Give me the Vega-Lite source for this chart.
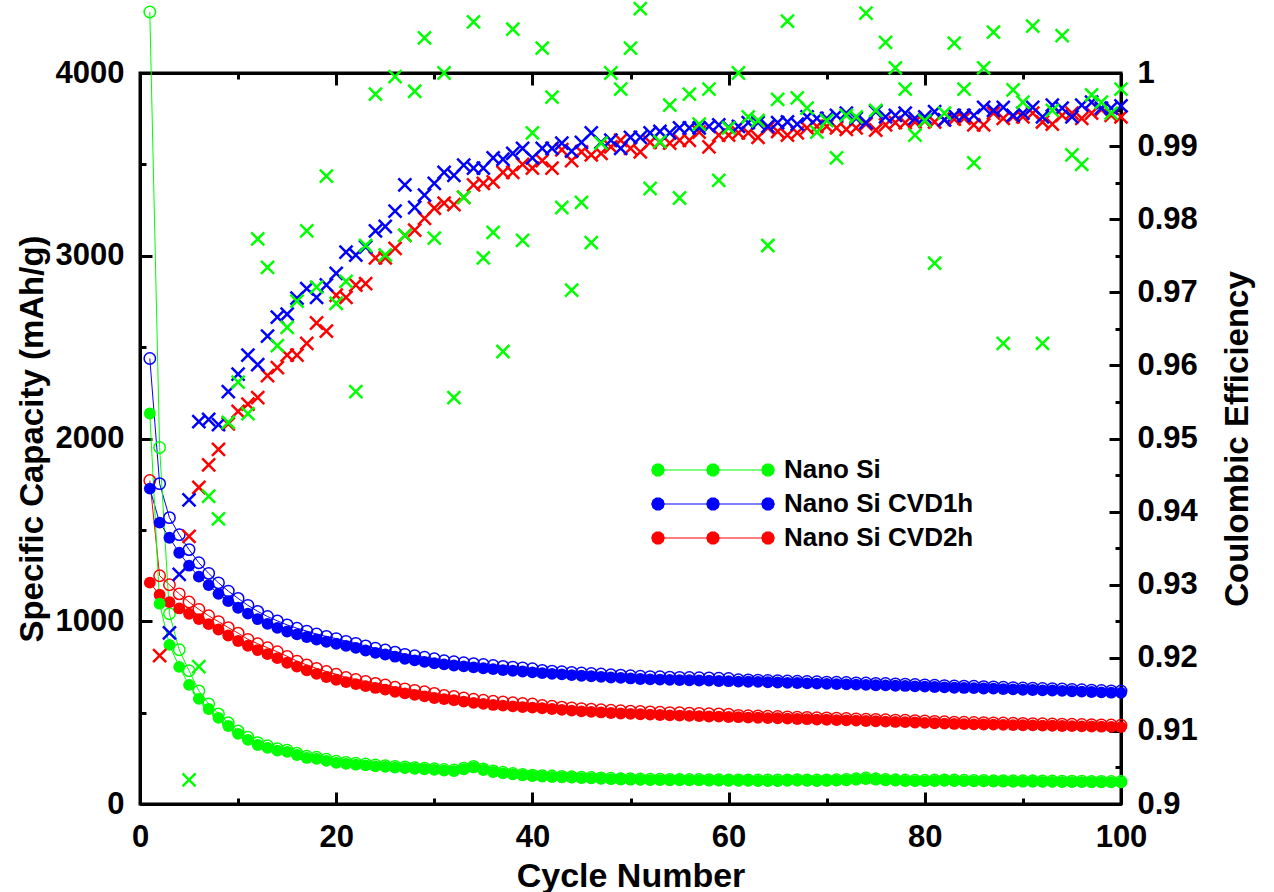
{
"$schema":"https://vega.github.io/schema/vega-lite/v6.json",
"width":981,"height":731,
"autosize":{"type":"none"},
"padding":{"left":140,"top":73,"right":153,"bottom":88},
"background":"white",
"config":{
"view":{"stroke":"black","strokeWidth":3},
"font":"Liberation Sans",
"axis":{"domainColor":"black","domainWidth":3,"tickColor":"black","tickWidth":3,"labelFont":"Liberation Sans","labelFontWeight":"bold","labelFontSize":31,"labelColor":"black","titleFont":"Liberation Sans","titleFontWeight":"bold","titleFontSize":33,"titleColor":"black","grid":false,"labelFlush":false,"labelOverlap":false}
},
"data":{"values":[
{"n":1,"s":"Nano Si CVD2h","d":1211,"c":1770},
{"n":2,"s":"Nano Si CVD2h","d":1145,"c":1249,"e":0.9203},
{"n":3,"s":"Nano Si CVD2h","d":1105,"c":1200},
{"n":4,"s":"Nano Si CVD2h","d":1070,"c":1150},
{"n":5,"s":"Nano Si CVD2h","d":1041,"c":1105,"e":0.9366},
{"n":6,"s":"Nano Si CVD2h","d":1012,"c":1065,"e":0.9433},
{"n":7,"s":"Nano Si CVD2h","d":984,"c":1030,"e":0.9464},
{"n":8,"s":"Nano Si CVD2h","d":955,"c":998,"e":0.9485},
{"n":9,"s":"Nano Si CVD2h","d":922,"c":965,"e":0.952},
{"n":10,"s":"Nano Si CVD2h","d":892,"c":935,"e":0.9537},
{"n":11,"s":"Nano Si CVD2h","d":866,"c":901,"e":0.9547},
{"n":12,"s":"Nano Si CVD2h","d":842,"c":877,"e":0.9556},
{"n":13,"s":"Nano Si CVD2h","d":820,"c":855,"e":0.9586},
{"n":14,"s":"Nano Si CVD2h","d":798,"c":833,"e":0.9597},
{"n":15,"s":"Nano Si CVD2h","d":773,"c":808,"e":0.9614},
{"n":16,"s":"Nano Si CVD2h","d":752,"c":782,"e":0.9614},
{"n":17,"s":"Nano Si CVD2h","d":731,"c":761,"e":0.963},
{"n":18,"s":"Nano Si CVD2h","d":712,"c":742,"e":0.9658},
{"n":19,"s":"Nano Si CVD2h","d":695,"c":725,"e":0.9647},
{"n":20,"s":"Nano Si CVD2h","d":680,"c":710,"e":0.9696},
{"n":21,"s":"Nano Si CVD2h","d":667,"c":692,"e":0.9693},
{"n":22,"s":"Nano Si CVD2h","d":656,"c":681,"e":0.971},
{"n":23,"s":"Nano Si CVD2h","d":645,"c":670,"e":0.9712},
{"n":24,"s":"Nano Si CVD2h","d":635,"c":660,"e":0.9747},
{"n":25,"s":"Nano Si CVD2h","d":626,"c":651,"e":0.9747},
{"n":26,"s":"Nano Si CVD2h","d":614,"c":639,"e":0.976},
{"n":27,"s":"Nano Si CVD2h","d":605,"c":630,"e":0.9778},
{"n":28,"s":"Nano Si CVD2h","d":597,"c":622,"e":0.9785},
{"n":29,"s":"Nano Si CVD2h","d":589,"c":614,"e":0.9801},
{"n":30,"s":"Nano Si CVD2h","d":580,"c":605,"e":0.9815},
{"n":31,"s":"Nano Si CVD2h","d":574,"c":594,"e":0.9822},
{"n":32,"s":"Nano Si CVD2h","d":568,"c":588,"e":0.982},
{"n":33,"s":"Nano Si CVD2h","d":560,"c":580,"e":0.983},
{"n":34,"s":"Nano Si CVD2h","d":553,"c":573,"e":0.9847},
{"n":35,"s":"Nano Si CVD2h","d":548,"c":568,"e":0.9849},
{"n":36,"s":"Nano Si CVD2h","d":542,"c":562,"e":0.9851},
{"n":37,"s":"Nano Si CVD2h","d":538,"c":558,"e":0.9864},
{"n":38,"s":"Nano Si CVD2h","d":534,"c":554,"e":0.9864},
{"n":39,"s":"Nano Si CVD2h","d":530,"c":550,"e":0.9875},
{"n":40,"s":"Nano Si CVD2h","d":527,"c":547,"e":0.987},
{"n":41,"s":"Nano Si CVD2h","d":524,"c":539,"e":0.988},
{"n":42,"s":"Nano Si CVD2h","d":520,"c":535,"e":0.987},
{"n":43,"s":"Nano Si CVD2h","d":515,"c":530,"e":0.9895},
{"n":44,"s":"Nano Si CVD2h","d":511,"c":526,"e":0.988},
{"n":45,"s":"Nano Si CVD2h","d":507,"c":522,"e":0.9892},
{"n":46,"s":"Nano Si CVD2h","d":504,"c":519,"e":0.9888},
{"n":47,"s":"Nano Si CVD2h","d":501,"c":516,"e":0.989},
{"n":48,"s":"Nano Si CVD2h","d":498,"c":513,"e":0.9899},
{"n":49,"s":"Nano Si CVD2h","d":495,"c":510,"e":0.9908},
{"n":50,"s":"Nano Si CVD2h","d":493,"c":508,"e":0.9897},
{"n":51,"s":"Nano Si CVD2h","d":491,"c":506,"e":0.9892},
{"n":52,"s":"Nano Si CVD2h","d":489,"c":504,"e":0.9905},
{"n":53,"s":"Nano Si CVD2h","d":487,"c":502,"e":0.9905},
{"n":54,"s":"Nano Si CVD2h","d":485,"c":500,"e":0.9904},
{"n":55,"s":"Nano Si CVD2h","d":484,"c":499,"e":0.9908},
{"n":56,"s":"Nano Si CVD2h","d":482,"c":497,"e":0.9908},
{"n":57,"s":"Nano Si CVD2h","d":481,"c":496,"e":0.9919},
{"n":58,"s":"Nano Si CVD2h","d":479,"c":494,"e":0.9899},
{"n":59,"s":"Nano Si CVD2h","d":478,"c":493,"e":0.9915},
{"n":60,"s":"Nano Si CVD2h","d":476,"c":491,"e":0.9915},
{"n":61,"s":"Nano Si CVD2h","d":475,"c":485,"e":0.9918},
{"n":62,"s":"Nano Si CVD2h","d":473,"c":483,"e":0.9918},
{"n":63,"s":"Nano Si CVD2h","d":472,"c":482,"e":0.9912},
{"n":64,"s":"Nano Si CVD2h","d":470,"c":480,"e":0.9925},
{"n":65,"s":"Nano Si CVD2h","d":469,"c":479,"e":0.992},
{"n":66,"s":"Nano Si CVD2h","d":467,"c":477,"e":0.9915},
{"n":67,"s":"Nano Si CVD2h","d":465,"c":475,"e":0.9918},
{"n":68,"s":"Nano Si CVD2h","d":464,"c":474,"e":0.9925},
{"n":69,"s":"Nano Si CVD2h","d":462,"c":472,"e":0.9927},
{"n":70,"s":"Nano Si CVD2h","d":461,"c":471,"e":0.9927},
{"n":71,"s":"Nano Si CVD2h","d":459,"c":469,"e":0.9925},
{"n":72,"s":"Nano Si CVD2h","d":458,"c":468,"e":0.9923},
{"n":73,"s":"Nano Si CVD2h","d":456,"c":466,"e":0.9925},
{"n":74,"s":"Nano Si CVD2h","d":454,"c":464,"e":0.993},
{"n":75,"s":"Nano Si CVD2h","d":453,"c":463,"e":0.9922},
{"n":76,"s":"Nano Si CVD2h","d":451,"c":461,"e":0.9929},
{"n":77,"s":"Nano Si CVD2h","d":449,"c":459,"e":0.9932},
{"n":78,"s":"Nano Si CVD2h","d":448,"c":458,"e":0.9932},
{"n":79,"s":"Nano Si CVD2h","d":446,"c":456,"e":0.9933},
{"n":80,"s":"Nano Si CVD2h","d":444,"c":454,"e":0.9934},
{"n":81,"s":"Nano Si CVD2h","d":442,"c":452,"e":0.9933},
{"n":82,"s":"Nano Si CVD2h","d":440,"c":450,"e":0.9936},
{"n":83,"s":"Nano Si CVD2h","d":438,"c":448,"e":0.9937},
{"n":84,"s":"Nano Si CVD2h","d":437,"c":447,"e":0.9938},
{"n":85,"s":"Nano Si CVD2h","d":436,"c":446,"e":0.9929},
{"n":86,"s":"Nano Si CVD2h","d":435,"c":445,"e":0.9929},
{"n":87,"s":"Nano Si CVD2h","d":434,"c":444,"e":0.9945},
{"n":88,"s":"Nano Si CVD2h","d":433,"c":443,"e":0.9938},
{"n":89,"s":"Nano Si CVD2h","d":432,"c":442,"e":0.994},
{"n":90,"s":"Nano Si CVD2h","d":431,"c":441,"e":0.994},
{"n":91,"s":"Nano Si CVD2h","d":430,"c":440,"e":0.9945},
{"n":92,"s":"Nano Si CVD2h","d":429,"c":439,"e":0.9933},
{"n":93,"s":"Nano Si CVD2h","d":428,"c":438,"e":0.993},
{"n":94,"s":"Nano Si CVD2h","d":427,"c":437,"e":0.9942},
{"n":95,"s":"Nano Si CVD2h","d":426,"c":436,"e":0.9945},
{"n":96,"s":"Nano Si CVD2h","d":425,"c":435,"e":0.9938},
{"n":97,"s":"Nano Si CVD2h","d":424,"c":434,"e":0.9945},
{"n":98,"s":"Nano Si CVD2h","d":423,"c":433,"e":0.995},
{"n":99,"s":"Nano Si CVD2h","d":422,"c":432,"e":0.9942},
{"n":100,"s":"Nano Si CVD2h","d":421,"c":431,"e":0.994},
{"n":1,"s":"Nano Si CVD1h","d":1726,"c":2438},
{"n":2,"s":"Nano Si CVD1h","d":1540,"c":1753},
{"n":3,"s":"Nano Si CVD1h","d":1457,"c":1567,"e":0.9234},
{"n":4,"s":"Nano Si CVD1h","d":1375,"c":1474,"e":0.9314},
{"n":5,"s":"Nano Si CVD1h","d":1304,"c":1392,"e":0.9416},
{"n":6,"s":"Nano Si CVD1h","d":1244,"c":1320,"e":0.9523},
{"n":7,"s":"Nano Si CVD1h","d":1198,"c":1262,"e":0.9526},
{"n":8,"s":"Nano Si CVD1h","d":1150,"c":1210,"e":0.9519},
{"n":9,"s":"Nano Si CVD1h","d":1110,"c":1165,"e":0.9564},
{"n":10,"s":"Nano Si CVD1h","d":1074,"c":1125,"e":0.9588},
{"n":11,"s":"Nano Si CVD1h","d":1042,"c":1087,"e":0.9614},
{"n":12,"s":"Nano Si CVD1h","d":1012,"c":1054,"e":0.9601},
{"n":13,"s":"Nano Si CVD1h","d":986,"c":1026,"e":0.964},
{"n":14,"s":"Nano Si CVD1h","d":964,"c":1002,"e":0.9666},
{"n":15,"s":"Nano Si CVD1h","d":944,"c":980,"e":0.967},
{"n":16,"s":"Nano Si CVD1h","d":928,"c":962,"e":0.9692},
{"n":17,"s":"Nano Si CVD1h","d":914,"c":946,"e":0.9705},
{"n":18,"s":"Nano Si CVD1h","d":900,"c":930,"e":0.9693},
{"n":19,"s":"Nano Si CVD1h","d":888,"c":917,"e":0.971},
{"n":20,"s":"Nano Si CVD1h","d":877,"c":905,"e":0.9726},
{"n":21,"s":"Nano Si CVD1h","d":865,"c":890,"e":0.9755},
{"n":22,"s":"Nano Si CVD1h","d":854,"c":879,"e":0.9751},
{"n":23,"s":"Nano Si CVD1h","d":840,"c":865,"e":0.9762},
{"n":24,"s":"Nano Si CVD1h","d":827,"c":852,"e":0.9784},
{"n":25,"s":"Nano Si CVD1h","d":818,"c":843,"e":0.979},
{"n":26,"s":"Nano Si CVD1h","d":806,"c":831,"e":0.9811},
{"n":27,"s":"Nano Si CVD1h","d":794,"c":819,"e":0.9847},
{"n":28,"s":"Nano Si CVD1h","d":786,"c":811,"e":0.9816},
{"n":29,"s":"Nano Si CVD1h","d":778,"c":803,"e":0.9833},
{"n":30,"s":"Nano Si CVD1h","d":770,"c":795,"e":0.9849},
{"n":31,"s":"Nano Si CVD1h","d":764,"c":784,"e":0.9864},
{"n":32,"s":"Nano Si CVD1h","d":758,"c":778,"e":0.986},
{"n":33,"s":"Nano Si CVD1h","d":753,"c":773,"e":0.9874},
{"n":34,"s":"Nano Si CVD1h","d":748,"c":768,"e":0.987},
{"n":35,"s":"Nano Si CVD1h","d":743,"c":763,"e":0.987},
{"n":36,"s":"Nano Si CVD1h","d":738,"c":758,"e":0.9884},
{"n":37,"s":"Nano Si CVD1h","d":733,"c":753,"e":0.9882},
{"n":38,"s":"Nano Si CVD1h","d":729,"c":749,"e":0.989},
{"n":39,"s":"Nano Si CVD1h","d":725,"c":745,"e":0.9897},
{"n":40,"s":"Nano Si CVD1h","d":720,"c":740,"e":0.9884},
{"n":41,"s":"Nano Si CVD1h","d":716,"c":731,"e":0.9897},
{"n":42,"s":"Nano Si CVD1h","d":712,"c":727,"e":0.9897},
{"n":43,"s":"Nano Si CVD1h","d":709,"c":724,"e":0.9904},
{"n":44,"s":"Nano Si CVD1h","d":705,"c":720,"e":0.9893},
{"n":45,"s":"Nano Si CVD1h","d":702,"c":717,"e":0.9905},
{"n":46,"s":"Nano Si CVD1h","d":699,"c":714,"e":0.9918},
{"n":47,"s":"Nano Si CVD1h","d":696,"c":711,"e":0.9905},
{"n":48,"s":"Nano Si CVD1h","d":692,"c":707,"e":0.9908},
{"n":49,"s":"Nano Si CVD1h","d":690,"c":705,"e":0.9897},
{"n":50,"s":"Nano Si CVD1h","d":687,"c":702,"e":0.9912},
{"n":51,"s":"Nano Si CVD1h","d":684,"c":699,"e":0.9912},
{"n":52,"s":"Nano Si CVD1h","d":682,"c":697,"e":0.9918},
{"n":53,"s":"Nano Si CVD1h","d":681,"c":696,"e":0.992},
{"n":54,"s":"Nano Si CVD1h","d":679,"c":694,"e":0.9918},
{"n":55,"s":"Nano Si CVD1h","d":678,"c":693,"e":0.9925},
{"n":56,"s":"Nano Si CVD1h","d":677,"c":692,"e":0.9925},
{"n":57,"s":"Nano Si CVD1h","d":676,"c":691,"e":0.9925},
{"n":58,"s":"Nano Si CVD1h","d":675,"c":690,"e":0.9927},
{"n":59,"s":"Nano Si CVD1h","d":673,"c":688,"e":0.9929},
{"n":60,"s":"Nano Si CVD1h","d":672,"c":687,"e":0.9926},
{"n":61,"s":"Nano Si CVD1h","d":670,"c":680,"e":0.9927},
{"n":62,"s":"Nano Si CVD1h","d":669,"c":679,"e":0.9932},
{"n":63,"s":"Nano Si CVD1h","d":668,"c":678,"e":0.9932},
{"n":64,"s":"Nano Si CVD1h","d":666,"c":676,"e":0.9927},
{"n":65,"s":"Nano Si CVD1h","d":665,"c":675,"e":0.9932},
{"n":66,"s":"Nano Si CVD1h","d":663,"c":673,"e":0.9933},
{"n":67,"s":"Nano Si CVD1h","d":662,"c":672,"e":0.993},
{"n":68,"s":"Nano Si CVD1h","d":660,"c":670,"e":0.994},
{"n":69,"s":"Nano Si CVD1h","d":659,"c":669,"e":0.9938},
{"n":70,"s":"Nano Si CVD1h","d":657,"c":667,"e":0.9938},
{"n":71,"s":"Nano Si CVD1h","d":656,"c":666,"e":0.9942},
{"n":72,"s":"Nano Si CVD1h","d":655,"c":665,"e":0.9945},
{"n":73,"s":"Nano Si CVD1h","d":653,"c":663,"e":0.9938},
{"n":74,"s":"Nano Si CVD1h","d":652,"c":662,"e":0.9932},
{"n":75,"s":"Nano Si CVD1h","d":650,"c":660,"e":0.9947},
{"n":76,"s":"Nano Si CVD1h","d":649,"c":659,"e":0.994},
{"n":77,"s":"Nano Si CVD1h","d":647,"c":657,"e":0.9942},
{"n":78,"s":"Nano Si CVD1h","d":646,"c":656,"e":0.9945},
{"n":79,"s":"Nano Si CVD1h","d":644,"c":654,"e":0.9938},
{"n":80,"s":"Nano Si CVD1h","d":642,"c":652,"e":0.994},
{"n":81,"s":"Nano Si CVD1h","d":640,"c":650,"e":0.9947},
{"n":82,"s":"Nano Si CVD1h","d":638,"c":648,"e":0.9936},
{"n":83,"s":"Nano Si CVD1h","d":636,"c":646,"e":0.9942},
{"n":84,"s":"Nano Si CVD1h","d":635,"c":645,"e":0.9942},
{"n":85,"s":"Nano Si CVD1h","d":634,"c":644,"e":0.9942},
{"n":86,"s":"Nano Si CVD1h","d":632,"c":642,"e":0.9953},
{"n":87,"s":"Nano Si CVD1h","d":631,"c":641,"e":0.9949},
{"n":88,"s":"Nano Si CVD1h","d":629,"c":639,"e":0.9953},
{"n":89,"s":"Nano Si CVD1h","d":627,"c":637,"e":0.9942},
{"n":90,"s":"Nano Si CVD1h","d":625,"c":635,"e":0.9945},
{"n":91,"s":"Nano Si CVD1h","d":624,"c":634,"e":0.9953},
{"n":92,"s":"Nano Si CVD1h","d":622,"c":632,"e":0.994},
{"n":93,"s":"Nano Si CVD1h","d":621,"c":631,"e":0.9956},
{"n":94,"s":"Nano Si CVD1h","d":619,"c":629,"e":0.9952},
{"n":95,"s":"Nano Si CVD1h","d":617,"c":627,"e":0.994},
{"n":96,"s":"Nano Si CVD1h","d":615,"c":625,"e":0.9956},
{"n":97,"s":"Nano Si CVD1h","d":613,"c":623,"e":0.996},
{"n":98,"s":"Nano Si CVD1h","d":611,"c":621,"e":0.9952},
{"n":99,"s":"Nano Si CVD1h","d":609,"c":619,"e":0.9952},
{"n":100,"s":"Nano Si CVD1h","d":608,"c":618,"e":0.9955},
{"n":1,"s":"Nano Si","d":2137,"c":4334},
{"n":2,"s":"Nano Si","d":1096,"c":1951},
{"n":3,"s":"Nano Si","d":871,"c":1041},
{"n":4,"s":"Nano Si","d":750,"c":844},
{"n":5,"s":"Nano Si","d":652,"c":729,"e":0.9033},
{"n":6,"s":"Nano Si","d":575,"c":619,"e":0.9188},
{"n":7,"s":"Nano Si","d":520,"c":548,"e":0.9421},
{"n":8,"s":"Nano Si","d":471,"c":493,"e":0.939},
{"n":9,"s":"Nano Si","d":427,"c":445,"e":0.9522},
{"n":10,"s":"Nano Si","d":384,"c":400,"e":0.9577},
{"n":11,"s":"Nano Si","d":351,"c":365,"e":0.9534},
{"n":12,"s":"Nano Si","d":323,"c":336,"e":0.9773},
{"n":13,"s":"Nano Si","d":307,"c":319,"e":0.9734},
{"n":14,"s":"Nano Si","d":292,"c":303,"e":0.9627},
{"n":15,"s":"Nano Si","d":285,"c":295,"e":0.9652},
{"n":16,"s":"Nano Si","d":268,"c":278,"e":0.9688},
{"n":17,"s":"Nano Si","d":252,"c":261,"e":0.9784},
{"n":18,"s":"Nano Si","d":247,"c":256,"e":0.9707},
{"n":19,"s":"Nano Si","d":236,"c":245,"e":0.9859},
{"n":20,"s":"Nano Si","d":225,"c":234,"e":0.9685},
{"n":21,"s":"Nano Si","d":220,"c":228,"e":0.9715},
{"n":22,"s":"Nano Si","d":215,"c":223,"e":0.9564},
{"n":23,"s":"Nano Si","d":211,"c":219,"e":0.9764},
{"n":24,"s":"Nano Si","d":206,"c":213,"e":0.9971},
{"n":25,"s":"Nano Si","d":203,"c":210,"e":0.9751},
{"n":26,"s":"Nano Si","d":199,"c":206,"e":0.9995},
{"n":27,"s":"Nano Si","d":196,"c":203,"e":0.9778},
{"n":28,"s":"Nano Si","d":193,"c":199,"e":0.9975},
{"n":29,"s":"Nano Si","d":190,"c":196,"e":1.0048},
{"n":30,"s":"Nano Si","d":187,"c":193,"e":0.9774},
{"n":31,"s":"Nano Si","d":183,"c":189,"e":1.0},
{"n":32,"s":"Nano Si","d":180,"c":186,"e":0.9556},
{"n":33,"s":"Nano Si","d":190,"c":196,"e":0.983},
{"n":34,"s":"Nano Si","d":200,"c":206,"e":1.007},
{"n":35,"s":"Nano Si","d":186,"c":192,"e":0.9747},
{"n":36,"s":"Nano Si","d":175,"c":181,"e":0.9782},
{"n":37,"s":"Nano Si","d":168,"c":174,"e":0.9619},
{"n":38,"s":"Nano Si","d":162,"c":167,"e":1.006},
{"n":39,"s":"Nano Si","d":157,"c":162,"e":0.9771},
{"n":40,"s":"Nano Si","d":153,"c":158,"e":0.9918},
{"n":41,"s":"Nano Si","d":150,"c":155,"e":1.0034},
{"n":42,"s":"Nano Si","d":148,"c":153,"e":0.9967},
{"n":43,"s":"Nano Si","d":146,"c":151,"e":0.9816},
{"n":44,"s":"Nano Si","d":144,"c":149,"e":0.9703},
{"n":45,"s":"Nano Si","d":142,"c":147,"e":0.9823},
{"n":46,"s":"Nano Si","d":140,"c":145,"e":0.9768},
{"n":47,"s":"Nano Si","d":138,"c":143,"e":0.9904},
{"n":48,"s":"Nano Si","d":136,"c":141,"e":1.0},
{"n":49,"s":"Nano Si","d":134,"c":139,"e":0.9978},
{"n":50,"s":"Nano Si","d":133,"c":138,"e":1.0034},
{"n":51,"s":"Nano Si","d":132,"c":137,"e":1.0088},
{"n":52,"s":"Nano Si","d":131,"c":136,"e":0.9842},
{"n":53,"s":"Nano Si","d":131,"c":136,"e":0.9906},
{"n":54,"s":"Nano Si","d":130,"c":135,"e":0.9956},
{"n":55,"s":"Nano Si","d":130,"c":135,"e":0.9829},
{"n":56,"s":"Nano Si","d":129,"c":134,"e":0.9971},
{"n":57,"s":"Nano Si","d":129,"c":134,"e":0.993},
{"n":58,"s":"Nano Si","d":128,"c":133,"e":0.9978},
{"n":59,"s":"Nano Si","d":128,"c":133,"e":0.9853},
{"n":60,"s":"Nano Si","d":127,"c":132,"e":0.9925},
{"n":61,"s":"Nano Si","d":127,"c":132,"e":1.0},
{"n":62,"s":"Nano Si","d":127,"c":132,"e":0.994},
{"n":63,"s":"Nano Si","d":126,"c":131,"e":0.9935},
{"n":64,"s":"Nano Si","d":126,"c":131,"e":0.9764},
{"n":65,"s":"Nano Si","d":126,"c":131,"e":0.9964},
{"n":66,"s":"Nano Si","d":127,"c":132,"e":1.0071},
{"n":67,"s":"Nano Si","d":128,"c":133,"e":0.9966},
{"n":68,"s":"Nano Si","d":127,"c":132,"e":0.9952},
{"n":69,"s":"Nano Si","d":126,"c":131,"e":0.9919},
{"n":70,"s":"Nano Si","d":127,"c":132,"e":0.9935},
{"n":71,"s":"Nano Si","d":128,"c":133,"e":0.9884},
{"n":72,"s":"Nano Si","d":130,"c":135,"e":0.9942},
{"n":73,"s":"Nano Si","d":133,"c":138,"e":0.994},
{"n":74,"s":"Nano Si","d":137,"c":142,"e":1.0082},
{"n":75,"s":"Nano Si","d":133,"c":138,"e":0.9949},
{"n":76,"s":"Nano Si","d":130,"c":135,"e":1.0042},
{"n":77,"s":"Nano Si","d":128,"c":133,"e":1.0007},
{"n":78,"s":"Nano Si","d":126,"c":131,"e":0.9978},
{"n":79,"s":"Nano Si","d":125,"c":130,"e":0.9915},
{"n":80,"s":"Nano Si","d":125,"c":130,"e":0.9935},
{"n":81,"s":"Nano Si","d":126,"c":131,"e":0.974},
{"n":82,"s":"Nano Si","d":127,"c":132,"e":0.9945},
{"n":83,"s":"Nano Si","d":126,"c":131,"e":1.0041},
{"n":84,"s":"Nano Si","d":125,"c":130,"e":0.9978},
{"n":85,"s":"Nano Si","d":124,"c":129,"e":0.9877},
{"n":86,"s":"Nano Si","d":124,"c":129,"e":1.0007},
{"n":87,"s":"Nano Si","d":123,"c":128,"e":1.0056},
{"n":88,"s":"Nano Si","d":123,"c":128,"e":0.963},
{"n":89,"s":"Nano Si","d":122,"c":127,"e":0.9977},
{"n":90,"s":"Nano Si","d":122,"c":127,"e":0.996},
{"n":91,"s":"Nano Si","d":122,"c":127,"e":1.0064},
{"n":92,"s":"Nano Si","d":121,"c":126,"e":0.963},
{"n":93,"s":"Nano Si","d":121,"c":126,"e":0.9949},
{"n":94,"s":"Nano Si","d":120,"c":125,"e":1.0051},
{"n":95,"s":"Nano Si","d":120,"c":125,"e":0.9888},
{"n":96,"s":"Nano Si","d":120,"c":125,"e":0.9875},
{"n":97,"s":"Nano Si","d":119,"c":124,"e":0.997},
{"n":98,"s":"Nano Si","d":119,"c":124,"e":0.996},
{"n":99,"s":"Nano Si","d":118,"c":123,"e":0.9945},
{"n":100,"s":"Nano Si","d":118,"c":123,"e":0.9978}
]},
"layer":[
{"mark":{"type":"line","strokeWidth":1,"clip":false},
 "encoding":{
  "x":{"field":"n","type":"quantitative","scale":{"domain":[0,100],"nice":false},
   "axis":{"orient":"bottom","title":"Cycle Number","titleFontSize":34,"values":[0,10,20,30,40,50,60,70,80,90,100],
    "tickSize":{"condition":{"test":"datum.value % 20 !== 0","value":-6},"value":-12},
    "labelExpr":"datum.value % 20 === 0 ? format(datum.value,'d') : ''","labelPadding":30,"titlePadding":1}},
  "y":{"field":"c","type":"quantitative","scale":{"domain":[0,4000],"nice":false},
   "axis":{"orient":"left","title":"Specific Capacity (mAh/g)","values":[0,500,1000,1500,2000,2500,3000,3500,4000],
    "tickSize":{"condition":{"test":"datum.value % 1000 !== 0","value":-6},"value":-12},
    "labelExpr":"datum.value % 1000 === 0 ? format(datum.value,'d') : ''","labelPadding":28,"titlePadding":6}},
  "color":{"field":"s","type":"nominal","scale":{"domain":["Nano Si","Nano Si CVD1h","Nano Si CVD2h"],"range":["#00ff00","#0000ff","#ff0000"]},
   "legend":{"orient":"none","legendX":560,"legendY":384,"title":null,"padding":0,
    "symbolType":"M-5.5,0L5.5,0M-4.88,0L-4.998,0.364L-5.308,0.59L-5.692,0.59L-6.002,0.364L-6.12,0L-6.002,-0.364L-5.692,-0.59L-5.308,-0.59L-4.998,-0.364ZM0.62,0L0.502,0.364L0.192,0.59L-0.192,0.59L-0.502,0.364L-0.62,0L-0.502,-0.364L-0.192,-0.59L0.192,-0.59L0.502,-0.364ZM6.12,0L6.002,0.364L5.692,0.59L5.308,0.59L4.998,0.364L4.88,0L4.998,-0.364L5.308,-0.59L5.692,-0.59L6.002,-0.364Z",
    "symbolSize":400,"symbolStrokeWidth":1,"labelFont":"Liberation Sans","labelFontWeight":"bold","labelFontSize":26,"labelColor":"black","labelOffset":58,"labelLimit":500,"rowPadding":8,
    "encode":{"symbols":{"update":{"fill":{"scale":"color","field":"value"},"stroke":{"scale":"color","field":"value"},"strokeWidth":{"value":1.2},"opacity":{"value":1},"size":{"value":400}}}}}}
 }},
{"mark":{"type":"line","strokeWidth":1,"clip":false},
 "encoding":{
  "x":{"field":"n","type":"quantitative","axis":null},
  "y":{"field":"d","type":"quantitative","scale":{"domain":[0,4000],"nice":false},"axis":null},
  "color":{"field":"s","type":"nominal"}
 }},
{"mark":{"type":"point","shape":"circle","filled":false,"size":130,"strokeWidth":1.5,"opacity":1,"clip":false},
 "encoding":{
  "x":{"field":"n","type":"quantitative","axis":null},
  "y":{"field":"c","type":"quantitative","scale":{"domain":[0,4000],"nice":false},"axis":null},
  "color":{"field":"s","type":"nominal"}
 }},
{"mark":{"type":"point","shape":"circle","filled":true,"size":140,"opacity":1,"clip":false},
 "encoding":{
  "x":{"field":"n","type":"quantitative","axis":null},
  "y":{"field":"d","type":"quantitative","scale":{"domain":[0,4000],"nice":false},"axis":null},
  "color":{"field":"s","type":"nominal"}
 }},
{"transform":[{"filter":"isValid(datum.e)"}],
 "mark":{"type":"point","shape":"M-1,-1L1,1M-1,1L1,-1","filled":false,"size":170,"strokeWidth":2.5,"opacity":1,"clip":false},
 "encoding":{
  "x":{"field":"n","type":"quantitative",
   "axis":{"orient":"top","title":null,"labels":false,"values":[0,10,20,30,40,50,60,70,80,90,100],
    "tickSize":{"condition":{"test":"datum.value % 20 !== 0","value":-6},"value":-12}}},
  "y":{"field":"e","type":"quantitative","scale":{"domain":[0.9,1.0],"nice":false,"zero":false},
   "axis":{"orient":"right","title":"Coulombic Efficiency","titleAngle":-90,"titleBaseline":"top","values":[0.9,0.905,0.91,0.915,0.92,0.925,0.93,0.935,0.94,0.945,0.95,0.955,0.96,0.965,0.97,0.975,0.98,0.985,0.99,0.995,1.0],
    "tickSize":{"condition":{"test":"round(datum.value*1000) % 10 !== 0","value":-6},"value":-12},
    "labelExpr":"round(datum.value*1000) % 10 === 0 ? format(datum.value,'.2~f') : ''","labelPadding":28,"titlePadding":24}},
  "color":{"field":"s","type":"nominal"}
 }}
],
"resolve":{"scale":{"y":"independent"},"axis":{"x":"independent","y":"independent"}}
}
